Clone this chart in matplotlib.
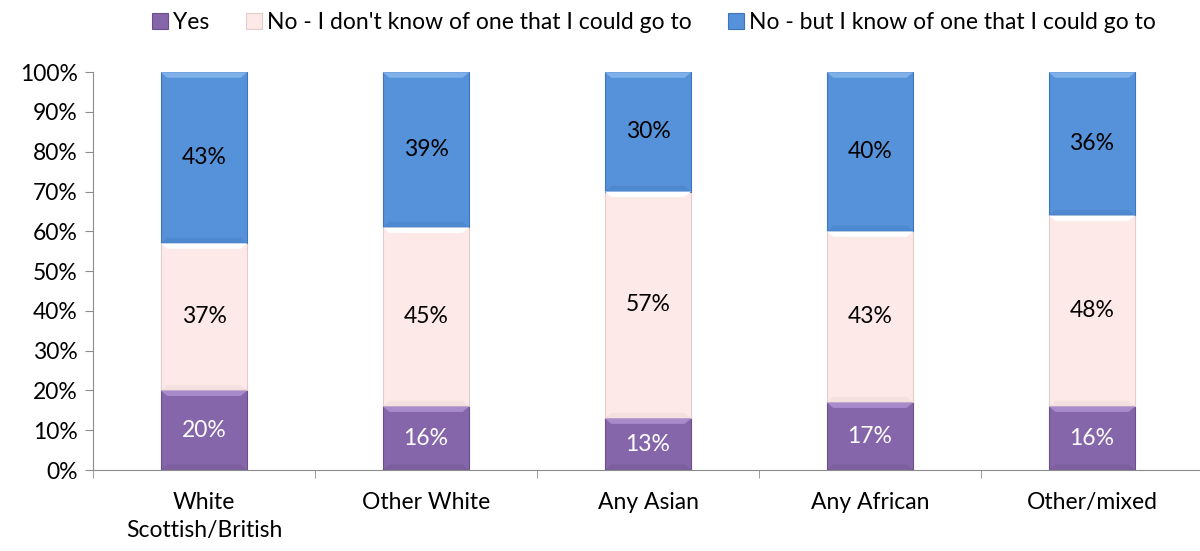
import numpy as np
import matplotlib.pyplot as plt
from matplotlib.patches import Polygon
from matplotlib.ticker import PercentFormatter, FixedLocator

plt.rcParams['font.family'] = ['Lato', 'DejaVu Sans']

categories = ['White\nScottish/British', 'Other White', 'Any Asian', 'Any African', 'Other/mixed']
series_names = ['Yes', "No - I don't know of one that I could go to", 'No - but I know of one that I could go to']
yes = [20, 16, 13, 17, 16]
no_dont_know = [37, 45, 57, 43, 48]
no_but_know = [43, 39, 30, 40, 36]

colors = ['#8666AA', '#FDE9E7', '#5592DA']
light = ['#A78BCB', '#FFFFFF', '#7FB0EA']
dark = ['#6A5089', '#E2CDCB', '#3F75B8']
label_colors = ['white', 'black', 'black']

fig = plt.figure(figsize=(12, 5.51), dpi=100)
ax = fig.add_axes([0.0775, 0.147, 0.925, 0.722])

x = np.arange(len(categories))
width = 0.39
bottom = np.zeros(len(categories))
handles = []
for i, vals in enumerate([yes, no_dont_know, no_but_know]):
    vals = np.array(vals, dtype=float)
    bars = ax.bar(x, vals, width, bottom=bottom, color=colors[i],
                  edgecolor=dark[i], linewidth=0.8, label=series_names[i], zorder=2)
    handles.append(bars)
    # simple bevel
    bx, by = 0.03, 1.4
    for xi, b, v in zip(x, bottom, vals):
        l, r = xi - width / 2, xi + width / 2
        t = b + v
        ax.add_patch(Polygon([(l, t), (r, t), (r - bx, t - by), (l + bx, t - by)],
                             closed=True, color=light[i], lw=0, zorder=3))
        ax.add_patch(Polygon([(l, b), (r, b), (r - bx, b + by), (l + bx, b + by)],
                             closed=True, color=dark[i], lw=0, alpha=0.3, zorder=3))
        ax.text(xi, b + v / 2, f'{int(v)}%', ha='center', va='center',
                fontsize=16.5, color=label_colors[i], zorder=4)
    bottom += vals

ax.set_xlim(-0.5, len(categories) - 0.5)
ax.set_ylim(0, 100)
ax.set_yticks(np.arange(0, 101, 10))
ax.yaxis.set_major_formatter(PercentFormatter(decimals=0))
ax.set_xticks(x)
ax.set_xticklabels(categories, linespacing=1.4)
ax.xaxis.set_minor_locator(FixedLocator(np.arange(-0.5, len(categories), 1.0)))
ax.tick_params(axis='x', which='major', length=0, pad=16, labelsize=16.5)
ax.tick_params(axis='x', which='minor', length=6, color='#8C8C8C')
ax.tick_params(axis='y', length=6, color='#8C8C8C', labelsize=16.5, pad=5)

for s in ['top', 'right']:
    ax.spines[s].set_visible(False)
for s in ['left', 'bottom']:
    ax.spines[s].set_color('#8C8C8C')

fig.legend(handles=handles, labels=series_names, loc='upper center',
           bbox_to_anchor=(0.545, 1.015), ncol=3, frameon=False, fontsize=16.5,
           handlelength=0.7, handleheight=0.7, handletextpad=0.2, columnspacing=1.6)

fig.savefig('out.png', dpi=100)
